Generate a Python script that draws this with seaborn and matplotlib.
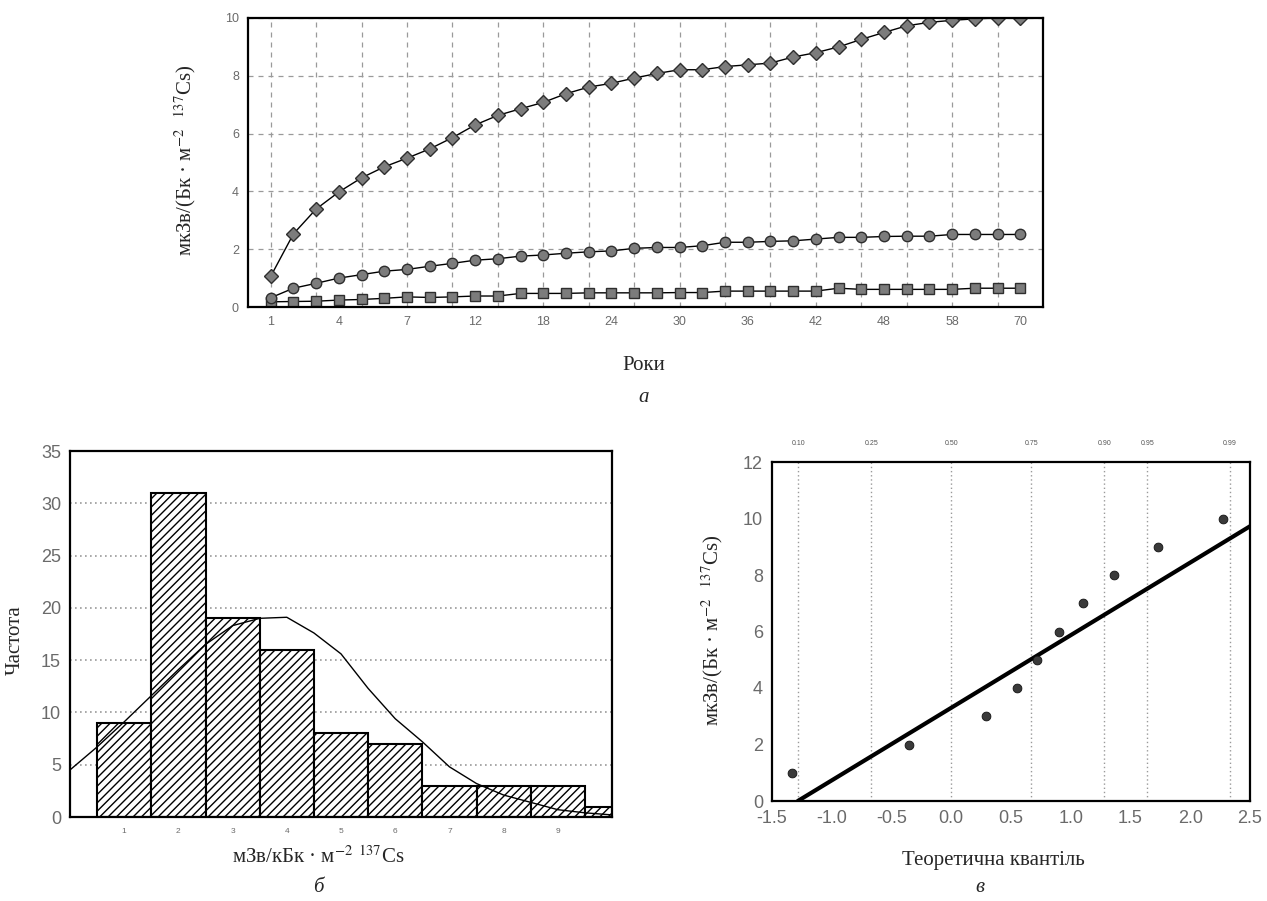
import numpy as np
import pandas as pd
import matplotlib
matplotlib.use("Agg")
import matplotlib.pyplot as plt
import seaborn as sns

# ---------------- data ----------------
years = [1, 2, 3, 4, 5, 6, 7, 8, 10, 12, 14, 16, 18, 20, 22, 24, 26, 28, 30, 32,
         34, 36, 38, 40, 42, 44, 46, 48, 50, 54, 58, 62, 66, 70]
dose_high = [1.06, 2.53, 3.39, 3.98, 4.47, 4.85, 5.15, 5.47, 5.86, 6.30, 6.63, 6.86,
             7.08, 7.38, 7.61, 7.74, 7.92, 8.08, 8.21, 8.21, 8.32, 8.38, 8.44, 8.65,
             8.80, 9.00, 9.26, 9.50, 9.73, 9.85, 9.92, 9.97, 10.0, 10.0]
dose_mid = [0.32, 0.65, 0.82, 1.00, 1.12, 1.24, 1.30, 1.41, 1.51, 1.62, 1.67, 1.76,
            1.80, 1.86, 1.91, 1.94, 2.03, 2.06, 2.06, 2.12, 2.24, 2.24, 2.27, 2.29,
            2.35, 2.41, 2.41, 2.44, 2.45, 2.45, 2.51, 2.51, 2.51, 2.51]
dose_low = [0.18, 0.19, 0.20, 0.24, 0.26, 0.30, 0.35, 0.33, 0.35, 0.38, 0.38, 0.47,
            0.47, 0.47, 0.49, 0.49, 0.49, 0.49, 0.50, 0.50, 0.55, 0.55, 0.55, 0.55,
            0.55, 0.65, 0.61, 0.61, 0.61, 0.61, 0.61, 0.65, 0.65, 0.65]

hist_bins = [1, 2, 3, 4, 5, 6, 7, 8, 9, 10]
hist_counts = [9, 31, 19, 16, 8, 7, 3, 3, 3, 1]
hist_tick_labels = ["1", "2", "3", "4", "5", "6", "7", "8", "9"]
curve_x = [0, 0.5, 1, 1.5, 2, 2.5, 3, 3.5, 4, 4.5, 5, 5.5, 6, 6.5, 7, 7.5, 8, 8.5, 9, 9.5, 10]
curve_y = [4.5, 6.7, 9.1, 11.6, 14.1, 16.5, 18.3, 19.0, 19.1, 17.6, 15.6, 12.3, 9.4,
           7.2, 4.8, 3.2, 2.1, 1.4, 0.7, 0.4, 0.2]

qq_theoretical = [-1.33, -0.35, 0.29, 0.55, 0.72, 0.90, 1.10, 1.36, 1.73, 2.27]
qq_observed = [1, 2, 3, 4, 5, 6, 7, 8, 9, 10]
fit_intercept = 3.30
fit_slope = 2.57
quantile_labels = ["0.10", "0.25", "0.50", "0.75", "0.90", "0.95", "0.99"]
quantile_z = [-1.28, -0.67, 0.0, 0.67, 1.28, 1.64, 2.33]

# ---------------- style ----------------
sns.set_theme(style="white")
plt.rcParams["font.family"] = ["Liberation Sans", "DejaVu Sans"]
plt.rcParams["mathtext.fontset"] = "stix"
plt.rcParams["hatch.color"] = "black"
plt.rcParams["hatch.linewidth"] = 1.0

SERIF = ["Liberation Serif", "DejaVu Serif"]
TICK_GREY = "#6a6a6a"

W, H = 1267, 901
fig = plt.figure(figsize=(W / 100, H / 100), dpi=100)
fig.patch.set_facecolor("white")


def px_axes(l, t, r, b):
    return fig.add_axes([l / W, 1 - b / H, (r - l) / W, (b - t) / H])


def frame(ax, lw=1.6):
    for s in ax.spines.values():
        s.set_visible(True)
        s.set_color("black")
        s.set_linewidth(lw)


# ---------------- (a) top chart ----------------
ax1 = px_axes(248, 18, 1043, 307)
cats = [str(y) for y in years]
df = pd.DataFrame({"year": cats, "high": dose_high, "mid": dose_mid, "low": dose_low})
for col, mk, ms in [("low", "s", 7), ("mid", "o", 7.5), ("high", "D", 7)]:
    sns.pointplot(data=df, x="year", y=col, order=cats, ax=ax1, color="black",
                  marker=mk, linestyle="-", errorbar=None, markersize=ms,
                  linewidth=1.0)
for ln in ax1.lines:
    ln.set_markerfacecolor("#7c7c7c")
    ln.set_markeredgecolor("#2e2e2e")
    ln.set_markeredgewidth(1.0)
    ln.set_linewidth(1.0)
ax1.set_xlim(-1, len(years))
ax1.set_ylim(0, 10)
ax1.xaxis.remove_overlapping_locs = False
ax1.set_xticks(range(0, len(years), 3))
ax1.set_xticklabels(cats[::3])
ax1.set_xticks(range(0, len(years), 2), minor=True)
ax1.set_yticks(range(0, 11, 2))
ax1.grid(False)
ax1.grid(True, which="minor", axis="x", linestyle=(0, (4, 4)), color="#9a9a9a", lw=0.9)
ax1.grid(True, which="major", axis="y", linestyle=(0, (4, 4)), color="#9a9a9a", lw=0.9)
ax1.set_axisbelow(True)
ax1.tick_params(axis="both", which="major", labelsize=9, colors=TICK_GREY,
                length=3, width=0.8, direction="out")
ax1.tick_params(axis="x", which="minor", length=0)
ax1.set_xlabel("")
ax1.set_ylabel("")
frame(ax1)

fig.text(185 / W, 1 - 160 / H, "мкЗв/(Бк · м$^{-2}$  $^{137}$Cs)", rotation=90,
         ha="center", va="center", fontsize=15, family=SERIF)
fig.text(644 / W, 1 - 366 / H, "Роки", ha="center", va="center", fontsize=15, family=SERIF)
fig.text(644 / W, 1 - 397 / H, "а", ha="center", va="center", fontsize=15,
         family=SERIF, style="italic")

# ---------------- (б) histogram ----------------
ax2 = px_axes(70, 451, 612, 817)
sns.barplot(x=hist_bins, y=hist_counts, native_scale=True, width=1.0, errorbar=None,
            ax=ax2, color="white", edgecolor="black", linewidth=1.5, hatch="////")
for p in ax2.patches:
    p.set_hatch("////")
    p.set_facecolor("white")
    p.set_edgecolor("black")
sns.lineplot(x=curve_x, y=curve_y, ax=ax2, color="black", lw=1.0)
ax2.set_xlim(0, 10)
ax2.set_ylim(0, 35)
ax2.set_xticks(range(1, 10))
ax2.set_xticklabels(hist_tick_labels)
ax2.set_yticks(range(0, 36, 5))
ax2.grid(False)
ax2.grid(True, axis="y", linestyle=(0, (1, 2)), color="#9a9a9a", lw=1.2)
ax2.set_axisbelow(True)
ax2.tick_params(axis="y", labelsize=13, colors=TICK_GREY, length=3, width=0.8)
ax2.tick_params(axis="x", labelsize=6, colors=TICK_GREY, length=0, pad=8)
ax2.set_xlabel("")
ax2.set_ylabel("")
frame(ax2)

fig.text(15 / W, 1 - 640 / H, "Частота", rotation=90, ha="center", va="center",
         fontsize=15, family=SERIF)
fig.text(318 / W, 1 - 857 / H, "мЗв/кБк · м$^{-2}$ $^{137}$Cs", ha="center",
         va="center", fontsize=15, family=SERIF)
fig.text(318 / W, 1 - 888 / H, "б", ha="center", va="center", fontsize=15,
         family=SERIF, style="italic")

# ---------------- (в) Q-Q plot ----------------
ax3 = px_axes(772, 462, 1250, 801)
line_x = np.array([-fit_intercept / fit_slope, 2.5])
line_y = fit_intercept + fit_slope * line_x
sns.lineplot(x=line_x, y=line_y, ax=ax3, color="black", lw=3.0)
sns.scatterplot(x=qq_theoretical, y=qq_observed, ax=ax3, color="#3a3a3a",
                s=40, edgecolor="#111111", linewidth=0.6, zorder=3)
ax3.set_xlim(-1.5, 2.5)
ax3.set_ylim(0, 12)
ax3.set_xticks(np.arange(-1.5, 2.51, 0.5))
ax3.set_xticklabels([f"{v:.1f}" for v in np.arange(-1.5, 2.51, 0.5)])
ax3.set_yticks(range(0, 13, 2))
ax3.xaxis.remove_overlapping_locs = False
ax3.set_xticks(quantile_z, minor=True)
ax3.grid(False)
ax3.grid(True, which="minor", axis="x", linestyle=(0, (1, 2)), color="#9a9a9a", lw=1.0)
ax3.tick_params(axis="both", which="major", labelsize=13, colors=TICK_GREY,
                length=3, width=0.8)
ax3.tick_params(axis="x", which="minor", length=0)
ax3.set_axisbelow(True)
frame(ax3)
top = ax3.secondary_xaxis("top")
top.set_xticks(quantile_z)
top.set_xticklabels(quantile_labels)
top.tick_params(labelsize=5, colors="#555555", length=0, pad=11)
top.spines["top"].set_visible(False)

fig.text(712 / W, 1 - 630 / H, "мкЗв/(Бк · м$^{-2}$  $^{137}$Cs)", rotation=90,
         ha="center", va="center", fontsize=15, family=SERIF)
fig.text(993 / W, 1 - 860 / H, "Теоретична квантіль", ha="center", va="center",
         fontsize=15, family=SERIF)
fig.text(980 / W, 1 - 888 / H, "в", ha="center", va="center", fontsize=15,
         family=SERIF, style="italic")

fig.savefig("out.png", dpi=100, facecolor="white")
